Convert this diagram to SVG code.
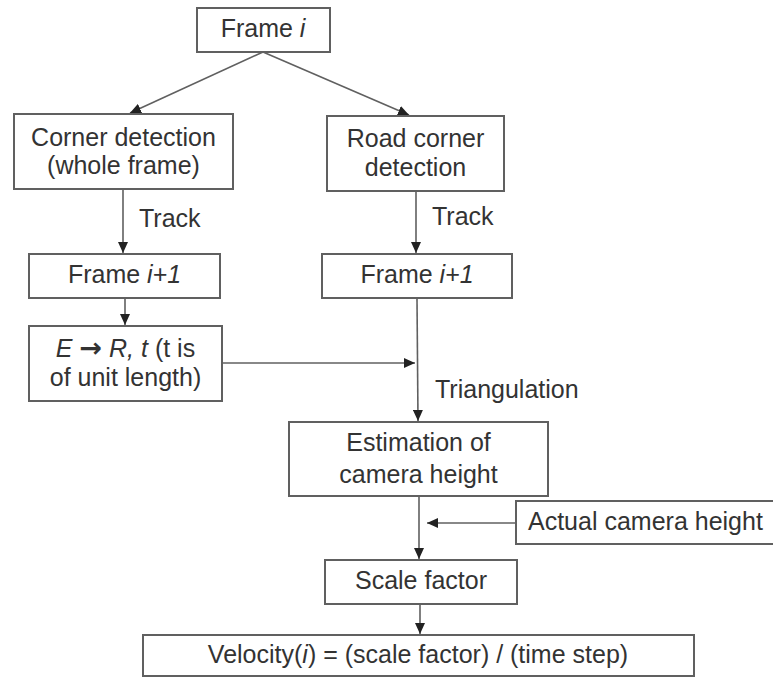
<svg xmlns="http://www.w3.org/2000/svg" width="773" height="677" viewBox="0 0 773 677">
<defs>
<marker id="ah" markerUnits="userSpaceOnUse" markerWidth="12" markerHeight="10" refX="11" refY="5" orient="auto">
<path d="M0,0 L11,5 L0,10 Z" fill="#222"/>
</marker>
<style>
.box{fill:#fff;stroke:#606060;stroke-width:2}
.t{font-family:"Liberation Sans",Arial,sans-serif;font-size:25px;fill:#333;text-anchor:middle}
.l{text-anchor:start}
.c{stroke:#606060;stroke-width:1.6;fill:none;marker-end:url(#ah)}
.arr{font-family:"DejaVu Sans",sans-serif;font-weight:bold;font-size:27px}
</style>
</defs>
<rect width="773" height="677" fill="#fff"/>
<g id="connectors">
<line class="c" x1="263" y1="52" x2="130" y2="113"/>
<line class="c" x1="263" y1="52" x2="409" y2="115"/>
<line class="c" x1="123" y1="189" x2="123" y2="253"/>
<line class="c" x1="416" y1="192" x2="416" y2="253"/>
<line class="c" x1="125" y1="298" x2="125" y2="325"/>
<line class="c" x1="417" y1="299" x2="418" y2="421"/>
<line class="c" x1="222" y1="363" x2="415" y2="363"/>
<line class="c" x1="419" y1="497" x2="419" y2="559"/>
<line class="c" x1="516" y1="523" x2="427" y2="523"/>
<line class="c" x1="420" y1="605" x2="420" y2="634"/>
</g>
<g id="frame-i">
<rect class="box" x="197" y="8" width="133" height="44"/>
<text class="t" x="263" y="37">Frame <tspan font-style="italic">i</tspan></text>
</g>
<g id="corner-detection">
<rect class="box" x="14" y="114" width="219" height="75"/>
<text class="t" x="123.5" y="146">Corner detection</text>
<text class="t" x="123.5" y="174">(whole frame)</text>
</g>
<g id="road-corner-detection">
<rect class="box" x="327" y="116" width="177" height="75"/>
<text class="t" x="415.5" y="147">Road corner</text>
<text class="t" x="415.5" y="176">detection</text>
</g>
<g id="track-labels">
<text class="t l" x="139" y="227">Track</text>
<text class="t l" x="432" y="225">Track</text>
</g>
<g id="frame-i1-left">
<rect class="box" x="29" y="254" width="191" height="44"/>
<text class="t" x="124.5" y="283">Frame <tspan font-style="italic">i+1</tspan></text>
</g>
<g id="frame-i1-right">
<rect class="box" x="322" y="254" width="190" height="44"/>
<text class="t" x="417" y="283">Frame <tspan font-style="italic">i+1</tspan></text>
</g>
<g id="essential">
<rect class="box" x="29" y="326" width="193" height="75"/>
<text class="t" x="125.5" y="357"><tspan font-style="italic">E</tspan> <tspan class="arr">→</tspan> <tspan font-style="italic">R, t</tspan> (t is</text>
<text class="t" x="125.5" y="386">of unit length)</text>
</g>
<g id="triangulation">
<text class="t l" x="435" y="398">Triangulation</text>
</g>
<g id="estimation">
<rect class="box" x="289" y="422" width="259" height="74"/>
<text class="t" x="418.5" y="451">Estimation of</text>
<text class="t" x="418.5" y="483">camera height</text>
</g>
<g id="actual-height">
<rect class="box" x="516" y="501" width="262" height="43"/>
<text class="t l" x="528" y="530">Actual camera height</text>
</g>
<g id="scale-factor">
<rect class="box" x="325" y="560" width="192" height="44"/>
<text class="t" x="421" y="589">Scale factor</text>
</g>
<g id="velocity">
<rect class="box" x="143" y="635" width="551" height="41"/>
<text class="t" x="418" y="663">Velocity(<tspan font-style="italic">i</tspan>) = (scale factor) / (time step)</text>
</g>
</svg>
